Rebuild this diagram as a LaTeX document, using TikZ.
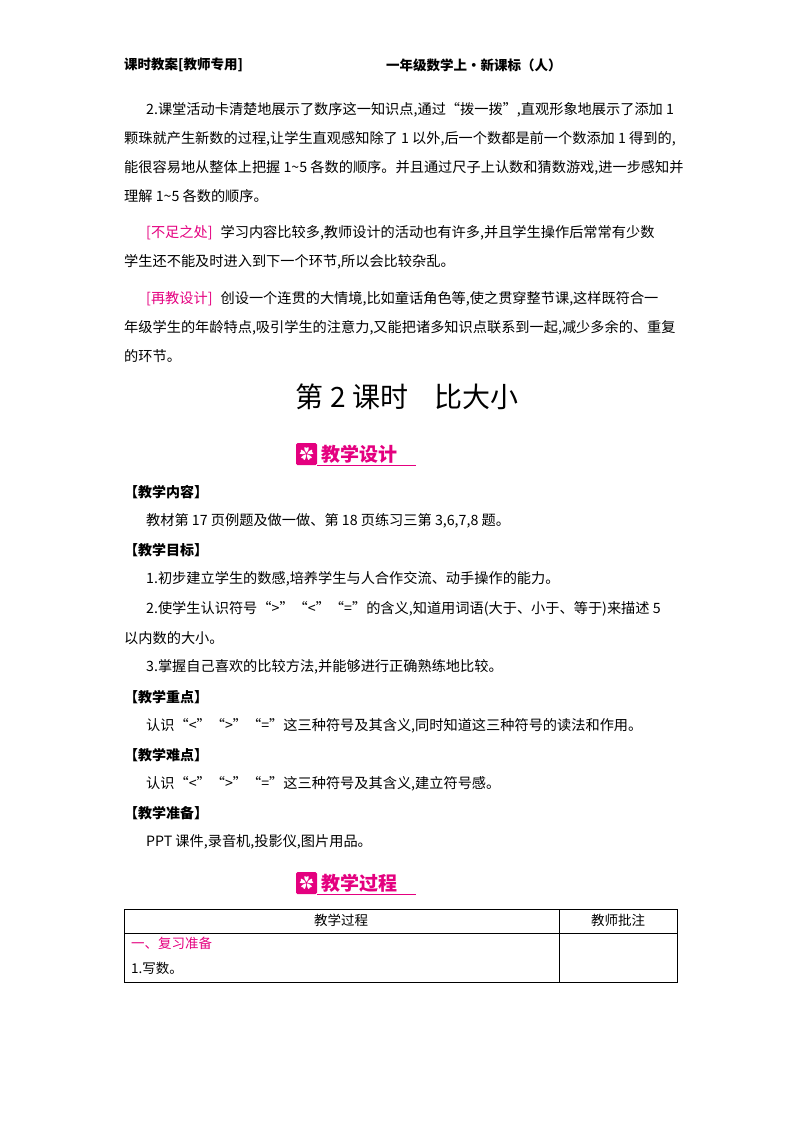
\documentclass[tikz,border=0pt]{standalone}
\usepackage{fontspec}
\setmainfont{Noto Sans CJK SC}
\definecolor{mag}{HTML}{E4007F}
\begin{document}
\begin{tikzpicture}[x=1pt,y=-1pt,
  t/.style={anchor=west,inner sep=0pt,font=\fontsize{14.2}{15}\selectfont},
  kb/.style={anchor=west,inner sep=0pt,font=\fontsize{14}{15}\selectfont\bfseries},
  badge/.style={anchor=west,inner sep=0pt,text=mag,font=\fontsize{19}{20}\selectfont\bfseries}]
\useasboundingbox (0,0) rectangle (800,1132);
\node[kb,font=\fontsize{13.5}{14}\selectfont\bfseries] (h1) at (124,65) {课时教案[教师专用]};
\node[kb,font=\fontsize{13.5}{14}\selectfont\bfseries] (h2) at (386,65) {一年级数学上·新课标（人）};
\node[t] (p1) at (146,110) {2.课堂活动卡清楚地展示了数序这一知识点,通过“拨一拨”,直观形象地展示了添加 1};
\node[t] (p2) at (124,139) {颗珠就产生新数的过程,让学生直观感知除了 1 以外,后一个数都是前一个数添加 1 得到的,};
\node[t] (p3) at (124,168) {能很容易地从整体上把握 1\~{}5 各数的顺序。并且通过尺子上认数和猜数游戏,进一步感知并};
\node[t] (p4) at (124,196) {理解 1\~{}5 各数的顺序。};
\node[t] (p5) at (146,233) {\textcolor{mag}{[不足之处]}\hspace{8pt}学习内容比较多,教师设计的活动也有许多,并且学生操作后常常有少数};
\node[t] (p6) at (124,262) {学生还不能及时进入到下一个环节,所以会比较杂乱。};
\node[t] (p7) at (146,299) {\textcolor{mag}{[再教设计]}\hspace{8pt}创设一个连贯的大情境,比如童话角色等,使之贯穿整节课,这样既符合一};
\node[t] (p8) at (124,328) {年级学生的年龄特点,吸引学生的注意力,又能把诸多知识点联系到一起,减少多余的、重复};
\node[t] (p9) at (124,356) {的环节。};
\node[inner sep=0pt,font=\fontsize{28}{29}\selectfont] (title) at (407,397) {第 2 课时\hspace{26pt}比大小};
% badge 1
\fill[mag,rounded corners=1.5pt] (296,443) rectangle (317,465);
\node[text=white,inner sep=0pt,font=\fontsize{14}{14}\selectfont] (i1) at (306.5,454) {\bfseries ✿};
\node[badge] (b1) at (321,454) {教学设计};
\draw[mag,line width=0.8pt] (317,465) -- (416,465);
\node[kb] (k1) at (124,492) {【教学内容】};
\node[t] (l1) at (146,521) {教材第 17 页例题及做一做、第 18 页练习三第 3,6,7,8 题。};
\node[kb] (k2) at (124,550) {【教学目标】};
\node[t] (l2) at (146,579) {1.初步建立学生的数感,培养学生与人合作交流、动手操作的能力。};
\node[t] (l3) at (146,609) {2.使学生认识符号“>”“<”“=”的含义,知道用词语(大于、小于、等于)来描述 5};
\node[t] (l4) at (124,638) {以内数的大小。};
\node[t] (l5) at (146,667) {3.掌握自己喜欢的比较方法,并能够进行正确熟练地比较。};
\node[kb] (k3) at (124,697) {【教学重点】};
\node[t] (l6) at (146,726) {认识“<”“>”“=”这三种符号及其含义,同时知道这三种符号的读法和作用。};
\node[kb] (k4) at (124,755) {【教学难点】};
\node[t] (l7) at (146,784) {认识“<”“>”“=”这三种符号及其含义,建立符号感。};
\node[kb] (k5) at (124,813) {【教学准备】};
\node[t] (l8) at (146,842) {PPT 课件,录音机,投影仪,图片用品。};
% badge 2
\fill[mag,rounded corners=1.5pt] (296,872) rectangle (317,894);
\node[text=white,inner sep=0pt,font=\fontsize{14}{14}\selectfont] (i2) at (306.5,883) {\bfseries ✿};
\node[badge] (b2) at (321,883) {教学过程};
\draw[mag,line width=0.8pt] (317,894) -- (416,894);
% table
\draw[line width=0.8pt] (124,909) rectangle (677,982);
\draw[line width=0.6pt] (124,933) -- (677,933);
\draw[line width=0.6pt] (559,909) -- (559,982);
\node[inner sep=0pt,font=\fontsize{13.5}{14}\selectfont] (c1) at (341,920) {教学过程};
\node[inner sep=0pt,font=\fontsize{13.5}{14}\selectfont] (c2) at (618,920) {教师批注};
\node[t,text=mag,font=\fontsize{13.5}{14}\selectfont] (r1) at (131,943) {一、复习准备};
\node[t,font=\fontsize{13.5}{14}\selectfont] (r2) at (131,968) {1.写数。};
\end{tikzpicture}
\end{document}
